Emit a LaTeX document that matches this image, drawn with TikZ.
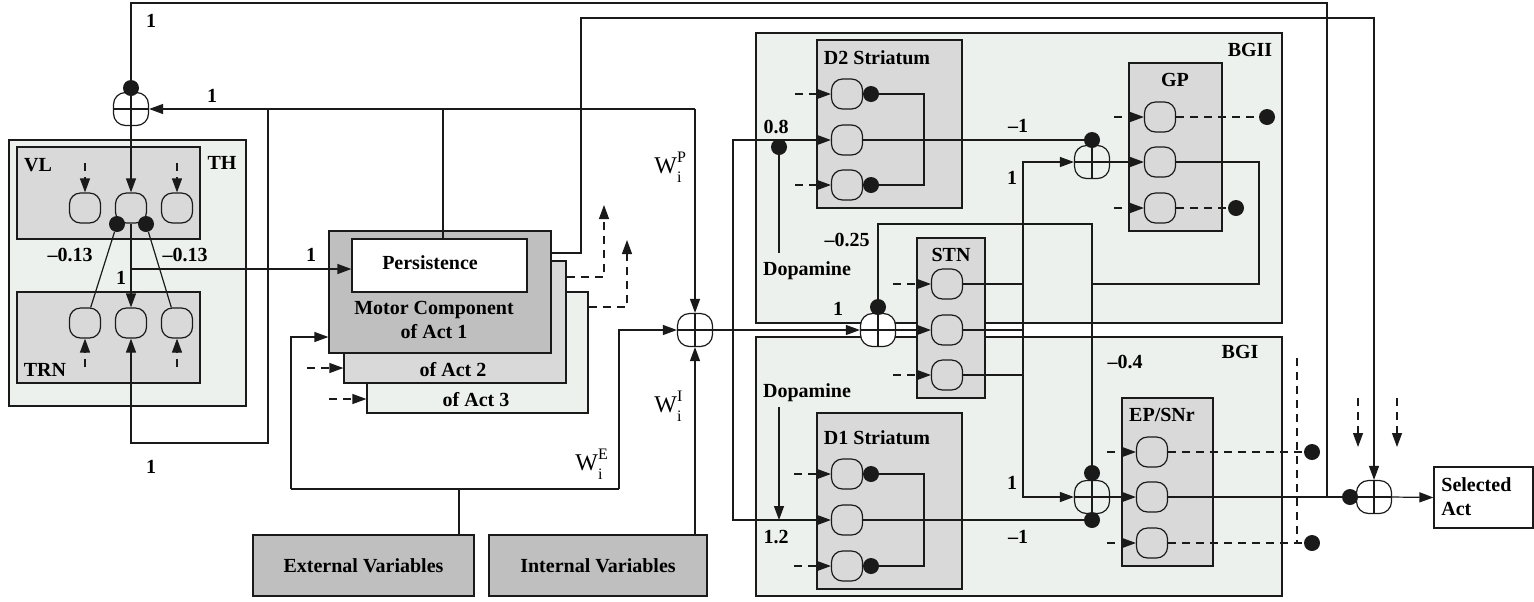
\documentclass[tikz,border=0pt]{standalone}
\usepackage{fontspec}
\setmainfont{Liberation Serif}
\usetikzlibrary{arrows.meta,fit}

\definecolor{palebg}{HTML}{EDF1EE}
\definecolor{nucgray}{HTML}{D9D9D9}
\definecolor{boxdark}{HTML}{BFBFBF}
\definecolor{ink}{HTML}{1A1A1A}

% weight label: W with stacked super- and subscript
\newcommand{\weightW}[1]{W\rlap{\raisebox{5.5pt}{\footnotesize #1}}\raisebox{-4.5pt}{\footnotesize i}}

\tikzset{
  wire/.style={draw=ink, line width=0.6pt},
  arr/.style={wire, -{Triangle[length=7pt,width=5pt]}},
  dwire/.style={wire, dash pattern=on 4pt off 3pt},
  darr/.style={dwire, -{Triangle[length=7pt,width=5pt]}},
  area/.style={draw=ink, fill=palebg, line width=0.6pt, inner sep=0pt},
  nucleus/.style={draw=ink, fill=nucgray, line width=0.6pt, inner sep=0pt},
  darkbox/.style={draw=ink, fill=boxdark, line width=0.6pt, inner sep=0pt},
  whitebox/.style={draw=ink, fill=white, line width=0.6pt, inner sep=0pt},
  cell/.style={draw=ink, fill=nucgray, rounded corners=5.5pt, minimum width=15.5pt,
    minimum height=15pt, inner sep=0pt, line width=0.6pt},
  sum/.style={draw=ink, rounded corners=6pt, minimum width=17.5pt,
    minimum height=16.5pt, inner sep=0pt, line width=0.6pt},
  blob/.style={circle, fill=ink, minimum size=8pt, inner sep=0pt},
  tag/.style={font=\bfseries, inner sep=0pt},
  wt/.style={inner sep=0pt, font=\large},
}

\begin{document}
\begin{tikzpicture}[x=0.5pt,y=-0.5pt]
\useasboundingbox (0,0) rectangle (1534,601);

% ---------- regions ----------
\node[area, fit={(9,140)(246,406)}] (th) {};
\node[area, fit={(756,33)(1282,323)}] (bgii) {};
\node[area, fit={(756,337)(1282,596)}] (bgi) {};

% ---------- thalamus ----------
\node[nucleus, fit={(17,147)(200,239)}] (vl) {};
\node[nucleus, fit={(17,292)(200,383)}] (trn) {};
\foreach \i/\x in {1/85,2/131,3/177}{
  \node[cell] (vl\i) at (\x,208) {};
  \node[cell] (trn\i) at (\x,323) {};
}
\node[blob] (vld1) at (117,224) {};
\node[blob] (vld2) at (146,224) {};
\node[sum, fill=white] (s0) at (131,109) {};
\node[blob] (s0d) at (131,88) {};

% ---------- motor components ----------
\node[area, fit={(367,292)(588,413)}] (m3) {};
\node[nucleus, fit={(344,261)(566,383)}] (m2) {};
\node[darkbox, fit={(329,231)(551,353)}] (m1) {};
\node[whitebox, fit={(352,239)(527,292)}] (pers) {};

% ---------- variables ----------
\node[darkbox, fit={(253,535)(474,596)}] (ext) {};
\node[darkbox, fit={(489,535)(707,596)}] (int) {};
\node[sum, fill=white] (s1) at (695,330) {};

% ---------- D2 striatum ----------
\node[nucleus, fit={(817,40)(962,208)}] (d2) {};
\node[cell] (d2a) at (847,94) {};
\node[cell] (d2b) at (847,140) {};
\node[cell] (d2c) at (847,185) {};
\node[blob] (d2ad) at (871,94) {};
\node[blob] (d2cd) at (871,185) {};
\node[blob] (da2) at (779,147) {};

% ---------- STN ----------
\node[nucleus, fit={(917,238)(985,398)}] (stn) {};
\node[cell] (stna) at (947,284) {};
\node[cell] (stnb) at (947,330) {};
\node[cell] (stnc) at (947,375) {};
\node[sum, fill=white] (s2) at (878,330) {};
\node[blob] (s2d) at (878,307) {};

% ---------- GP ----------
\node[nucleus, fit={(1129,63)(1222,231)}] (gp) {};
\node[cell] (gpa) at (1160,117) {};
\node[cell] (gpb) at (1160,162) {};
\node[cell] (gpc) at (1160,208) {};
\node[sum] (s3) at (1092,162) {};
\node[blob] (s3d) at (1092,140) {};
\node[blob] (gpad) at (1267,117) {};
\node[blob] (gpcd) at (1236,208) {};

% ---------- D1 striatum ----------
\node[nucleus, fit={(817,413)(962,589)}] (d1) {};
\node[cell] (d1a) at (847,474) {};
\node[cell] (d1b) at (847,520) {};
\node[cell] (d1c) at (847,566) {};
\node[blob] (d1ad) at (871,474) {};
\node[blob] (d1cd) at (871,566) {};

% ---------- EP/SNr ----------
\node[nucleus, fit={(1122,398)(1213,566)}] (ep) {};
\node[cell] (epa) at (1152,452) {};
\node[cell] (epb) at (1152,497) {};
\node[cell] (epc) at (1152,543) {};
\node[sum] (s4) at (1092,497) {};
\node[blob] (s4d) at (1092,473) {};
\node[blob] (s4e) at (1092,520) {};
\node[blob] (epad) at (1312,452) {};
\node[blob] (epcd) at (1312,543) {};

% ---------- output ----------
\node[sum, fill=white] (s5) at (1374,497) {};
\node[blob] (s5d) at (1350,497) {};
\node[whitebox, fit={(1434,467)(1533,528)}] (sel) {};

% ---------- adder crosses ----------
\foreach \s in {s0,s1,s2,s3,s4,s5}{
  \draw[wire] (\s.north) -- (\s.south) (\s.west) -- (\s.east);
}

% ---------- thalamic wiring ----------
\draw[darr] (85,163) -- (vl1.north);
\draw[darr] (177,163) -- (vl3.north);
\draw[darr] (85,367) -- (trn1.south);
\draw[darr] (177,367) -- (trn3.south);
\draw[wire] (vld1) -- (trn1.70);
\draw[wire] (vld2) -- (trn3.110);
\draw[arr] (vl2.south) -- (trn2.north);
\draw[arr] (s0.south) -- (vl2.north);
\draw[arr] (131,269) -- (pers.west |- 0,269);

% persistence loop
\draw[wire] (pers.north -| 443,0) -- (443,109);
\draw[arr] (695,109) -- (s0.east);
\draw[arr] (695,109) -- (s1.north);
\draw[arr] (268,109) -- (268,443) -- (131,443) -- (trn2.south);

% selection feedback to thalamus
\draw[wire] (1327,497) -- (1327,3) -- (131,3) -- (s0d);

% motor component outputs / inputs
\draw[darr] (m2.east |- 0,277) -- (604,277) -- (604,205);
\draw[darr] (m3.east |- 0,307) -- (627,307) -- (627,240);
\draw[darr] (307,368) -- (m2.west |- 0,368);
\draw[darr] (329,399) -- (m3.west |- 0,399);
\draw[arr] (m1.east |- 0,253) -- (581,253) -- (581,18) -- (1374,18) -- (s5.north);

% external and internal variables
\draw[wire] (459,535) -- (459,489);
\draw[arr] (291,489) -- (291,337) -- (m1.west |- 0,337);
\draw[wire] (291,489) -- (619,489);
\draw[arr] (619,489) -- (619,330) -- (s1.west);
\draw[arr] (int.north -| s1) -- (s1.south);

% salience to basal ganglia
\draw[arr] (s1.east) -- (s2.west);
\draw[arr] (733,330) |- (d2b.west);
\draw[arr] (733,330) |- (d1b.west);

% D2 striatum
\draw[darr] (795,94) -- (d2a.west);
\draw[darr] (795,185) -- (d2c.west);
\draw[wire] (d2ad) -- (924,94) -- (924,185) -- (d2cd);
\draw[wire] (da2) -- (779,253);
\draw[wire] (d2b.east) -- (s3d);

% STN
\draw[darr] (893,284) -- (stna.west);
\draw[darr] (893,375) -- (stnc.west);
\draw[arr] (s2.east) -- (stnb.west);
\draw[wire] (stna.east) -- (1023,284);
\draw[wire] (stnb.east) -- (1023,330);
\draw[wire] (stnc.east) -- (1023,375);
\draw[arr] (1023,330) |- (s3.west);
\draw[arr] (1023,330) |- (s4.west);
\draw[wire] (s2d) -- (878,224) -- (1092,224) -- (s4d);

% GP
\draw[darr] (1114,117) -- (gpa.west);
\draw[darr] (1114,208) -- (gpc.west);
\draw[arr] (s3.east) -- (gpb.west);
\draw[dwire] (gpa.east) -- (gpad);
\draw[dwire] (gpc.east) -- (gpcd);
\draw[wire] (gpb.east) -- (1259,162) -- (1259,284) -- (1092,284);

% D1 striatum
\draw[darr] (794,474) -- (d1a.west);
\draw[darr] (794,566) -- (d1c.west);
\draw[wire] (d1ad) -- (924,474) -- (924,566) -- (d1cd);
\draw[arr] (779,407) -- (779,520);
\draw[wire] (d1b.east) -- (s4e);

% EP/SNr
\draw[darr] (1107,452) -- (epa.west);
\draw[darr] (1107,543) -- (epc.west);
\draw[arr] (s4.east) -- (epb.west);
\draw[dwire] (epa.east) -- (epad);
\draw[dwire] (epc.east) -- (epcd);
\draw[dwire] (1297,358) -- (1297,543);
\draw[wire] (epb.east) -- (s5d);

% selection
\draw[darr] (1358,398) -- (1358,447);
\draw[darr] (1397,398) -- (1397,447);
\draw[arr] (s5.east) -- (sel.west);

% ---------- labels ----------
\node[tag] at (222,163) {TH};
\node[tag] at (38,165) {VL};
\node[tag] at (45,370) {TRN};
\node[tag] at (70,255) {–0.13};
\node[tag] at (185,255) {–0.13};
\node[tag] at (121,278) {1};
\node[tag] at (311,255) {1};
\node[tag] at (212,96) {1};
\node[tag] at (151,21) {1};
\node[tag] at (151,467) {1};
\node[tag] at (430,263) {Persistence};
\node[tag, align=center] at (434,320) {Motor Component\\of Act 1};
\node[tag] at (453,370) {of Act 2};
\node[tag] at (476,400) {of Act 3};
\node[tag] at (ext) {External Variables};
\node[tag] at (int) {Internal Variables};
\node[wt] at (589,464) {\weightW{E}};
\node[wt] at (668,167) {\weightW{P}};
\node[wt] at (668,406) {\weightW{I}};
\node[tag] at (838,309) {1};
\node[tag] at (1250,50) {BGII};
\node[tag] at (1240,352) {BGI};
\node[tag] at (877,58) {D2 Striatum};
\node[tag] at (877,438) {D1 Striatum};
\node[tag] at (951,255) {STN};
\node[tag] at (1175,80) {GP};
\node[tag] at (1162,415) {EP/SNr};
\node[tag] at (776,127) {0.8};
\node[tag] at (807,271) {Dopamine};
\node[tag] at (807,393) {Dopamine};
\node[tag] at (776,537) {1.2};
\node[tag] at (1018,126) {–1};
\node[tag] at (1012,178) {1};
\node[tag] at (847,240) {–0.25};
\node[tag] at (1012,483) {1};
\node[tag] at (1018,537) {–1};
\node[tag] at (1125,362) {–0.4};
\node[tag, align=left, anchor=west] at (1441,497) {Selected\\Act};
\end{tikzpicture}
\end{document}
